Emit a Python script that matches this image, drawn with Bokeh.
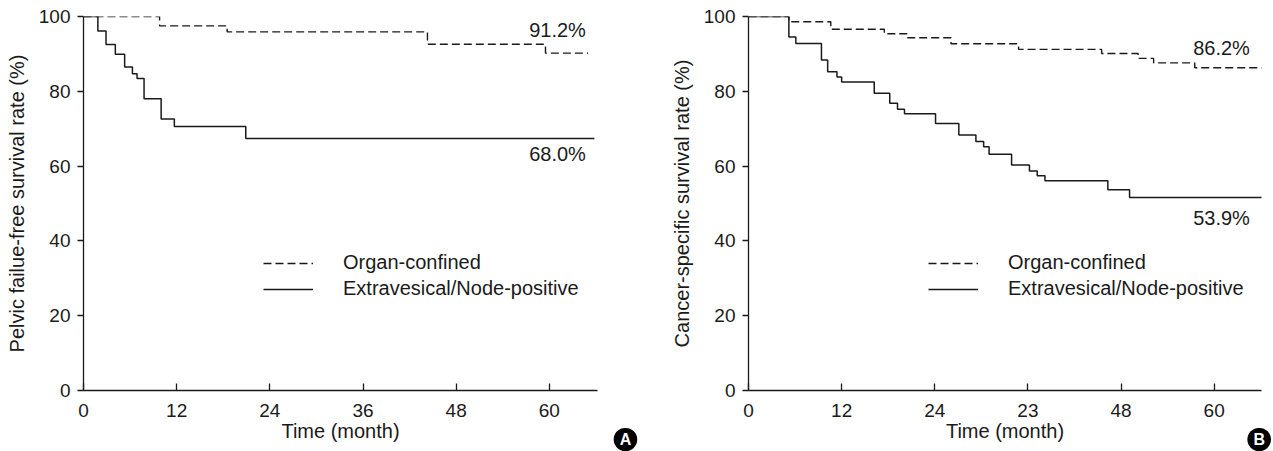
from bokeh.plotting import figure
from bokeh.layouts import row
from bokeh.models import Legend, LegendItem, Label, FixedTicker, Range1d
from bokeh.core.properties import value
from bokeh.embed import file_html
from bokeh.resources import INLINE

FONT = "Liberation Sans"
INK = "#1a1a1a"

# ---------------- data ----------------
# Panel A: pelvic failure-free survival
a_organ_t = [0, 9.8, 18.5, 44.3, 59.5, 65.0]
a_organ_s = [100, 97.5, 95.9, 92.6, 90.2, 90.2]
a_ext_t = [0, 1.85, 2.9, 4.1, 5.3, 6.3, 6.9, 7.8, 10.0, 11.7, 20.9, 65.8]
a_ext_s = [100, 96.1, 92.5, 89.9, 86.5, 84.7, 83.4, 78.0, 72.6, 70.6, 67.4, 67.4]

# Panel B: cancer-specific survival
b_organ_t = [0, 5.2, 10.6, 17.5, 20.5, 26.1, 34.8, 45.5, 50.2, 52.2, 57.5, 66.3]
b_organ_s = [100, 98.6, 96.6, 95.4, 94.3, 92.7, 91.2, 90.1, 88.8, 87.6, 86.3, 86.3]
b_ext_t = [0, 5.2, 6.1, 9.4, 10.2, 11.4, 12.0, 16.2, 18.2, 19.2, 20.1, 24.1, 27.1,
           29.3, 30.3, 31.0, 33.9, 36.2, 37.2, 38.2, 46.3, 49.1, 66.3]
b_ext_s = [100, 94.5, 92.8, 88.4, 85.2, 83.8, 82.5, 79.5, 76.8, 75.2, 74.0, 71.4, 68.3,
           66.6, 65.2, 63.2, 60.3, 58.7, 57.4, 56.1, 53.7, 51.6, 51.6]

series_names = ["Organ-confined", "Extravesical/Node-positive"]
x_ticks = [0, 12, 24, 36, 48, 60]
a_x_tick_labels = ["0", "12", "24", "36", "48", "60"]
b_x_tick_labels = ["0", "12", "24", "23", "48", "60"]
y_ticks = [0, 20, 40, 60, 80, 100]
a_end_labels = ["91.2%", "68.0%"]
b_end_labels = ["86.2%", "53.9%"]
x_title = "Time (month)"
a_y_title = "Pelvic failue-free survival rate (%)"
b_y_title = "Cancer-specific survival rate (%)"
badges = ["A", "B"]


def panel(width, border_left, border_right, x_end, organ_t, organ_s, ext_t, ext_s,
          xlabels, ytitle, end_labels, label_offsets, badge, badge_pos, badge_side):
    p = figure(width=width, height=451, x_range=Range1d(0, x_end), y_range=Range1d(0, 100),
               output_backend="svg", toolbar_location=None,
               min_border_left=border_left, min_border_right=border_right,
               min_border_top=16, min_border_bottom=61)
    p.outline_line_color = None
    p.xgrid.visible = False
    p.ygrid.visible = False
    p.background_fill_color = "white"
    p.border_fill_color = "white"

    for ax in (p.xaxis[0], p.yaxis[0]):
        ax.axis_line_color = INK
        ax.axis_line_width = 1.3
        ax.major_tick_line_color = INK
        ax.major_tick_line_width = 1.3
        ax.minor_tick_line_color = None
        ax.major_label_text_font = FONT
        ax.major_label_text_font_size = "19px"
        ax.major_label_text_color = INK
        ax.axis_label_text_font = FONT
        ax.axis_label_text_font_size = "20px"
        ax.axis_label_text_font_style = "normal"
        ax.axis_label_text_color = INK

    xa = p.xaxis[0]
    xa.ticker = FixedTicker(ticks=x_ticks)
    xa.major_label_overrides = {t: l for t, l in zip(x_ticks, xlabels)}
    xa.major_tick_in = 7
    xa.major_tick_out = 0
    xa.major_label_standoff = 13
    xa.axis_label = x_title
    xa.axis_label_standoff = 0

    ya = p.yaxis[0]
    ya.ticker = FixedTicker(ticks=y_ticks)
    ya.major_tick_in = 0
    ya.major_tick_out = 6
    ya.major_label_standoff = 7
    ya.axis_label = ytitle
    ya.axis_label_standoff = 8

    r_organ = p.step(organ_t, organ_s, mode="after", line_color=INK, line_width=1.4,
                     line_dash="8 4")
    r_ext = p.step(ext_t, ext_s, mode="after", line_color=INK, line_width=1.5)

    lx = x_end - 1.5
    p.text(x=[lx, lx], y=[organ_s[-1], ext_s[-1]], text=end_labels,
           y_offset=label_offsets, text_align="right", text_baseline="middle",
           text_font=value(FONT), text_font_size="20px", text_color=INK)

    legend = Legend(items=[LegendItem(label=series_names[0], renderers=[r_organ]),
                           LegendItem(label=series_names[1], renderers=[r_ext])],
                    location=(180, 90), glyph_width=50, glyph_height=20, label_height=20,
                    label_standoff=30, spacing=3, padding=0, margin=0,
                    label_text_font=FONT, label_text_font_size="20px",
                    label_text_color=INK, border_line_alpha=0, background_fill_alpha=0)
    p.add_layout(legend)

    # panel badge: kept in a side panel so that it is not clipped to the frame
    bx, by = badge_pos
    p.add_layout(Label(x=bx, y=by, x_units="data", y_units="data",
                       text=badge, text_color="white", text_font=FONT,
                       text_font_style="bold", text_font_size="16px",
                       text_align="center", text_baseline="middle",
                       background_fill_color="black", background_fill_alpha=1.0,
                       border_radius=12,
                       padding=dict(left=6, right=6, top=3, bottom=3)), badge_side)
    return p


pa = panel(640, 83, 43, 66.2, a_organ_t, a_organ_s, a_ext_t, a_ext_s,
           a_x_tick_labels, a_y_title, a_end_labels, [-23, 16], badges[0],
           (69.8, -13.1), "right")
pb = panel(633, 108, 12, 66.1, b_organ_t, b_organ_s, b_ext_t, b_ext_s,
           b_x_tick_labels, b_y_title, b_end_labels, [-20, 20], badges[1],
           (65.8, -13.1), "left")

layout = row(pa, pb)
open("out.html", "w").write(file_html(layout, INLINE))
